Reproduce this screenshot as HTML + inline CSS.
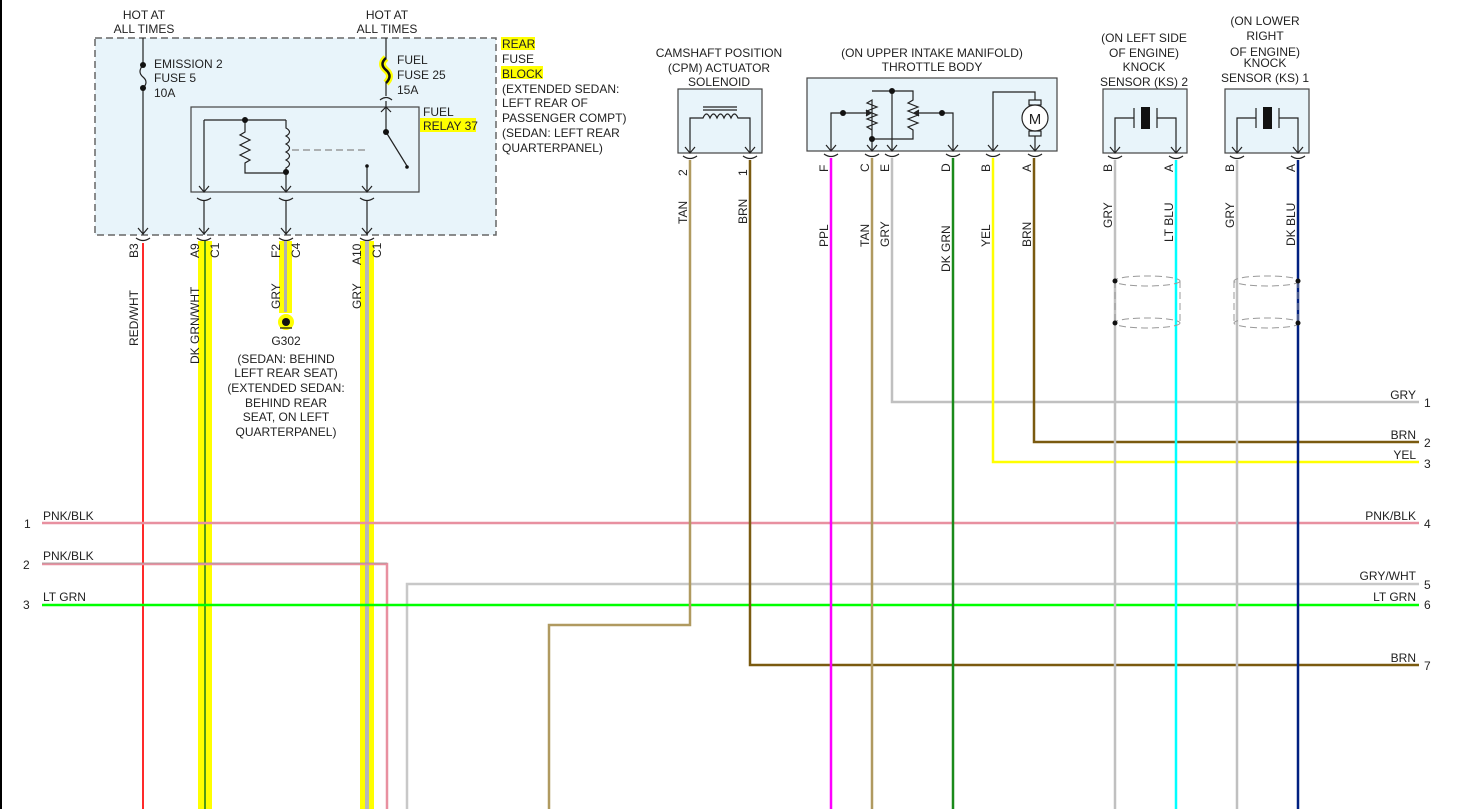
<!DOCTYPE html>
<html><head><meta charset="utf-8"><style>
html,body{margin:0;padding:0;background:#fff}
svg{display:block}
text{font-family:"Liberation Sans",sans-serif;font-size:12px;fill:#222}
.c{text-anchor:middle}
.r{text-anchor:end}
</style></head><body>
<svg width="1467" height="809" viewBox="0 0 1467 809" xmlns="http://www.w3.org/2000/svg">
<line x1="1" y1="0" x2="1" y2="809" stroke="#000" stroke-width="2"/>

<!-- Fuse block -->
<rect x="95" y="38" width="401" height="197" fill="#e8f4fa" stroke="#666" stroke-width="1.5" stroke-dasharray="7,4"/>
<rect x="191" y="107" width="228" height="85" fill="#e8f4fa" stroke="#444" stroke-width="1.2"/>
<text class="c" x="144" y="19">HOT AT</text><text class="c" x="144" y="33">ALL TIMES</text>
<text class="c" x="387" y="19">HOT AT</text><text class="c" x="387" y="33">ALL TIMES</text>
<g stroke="#222" stroke-width="1.2" fill="none">
<line x1="143" y1="38" x2="143" y2="65"/><path d="M143 65 Q137 72 143 77 Q149 82 143 88"/><line x1="143" y1="88" x2="143" y2="235"/>
<path d="M138 228 L143 234 L148 228"/>
<line x1="386" y1="38" x2="386" y2="60"/>
<line x1="386" y1="82" x2="386" y2="96"/>
<path d="M380 100 Q386 95 392 100"/>
<line x1="386" y1="101" x2="386" y2="132"/><path d="M381 112 L386 107 L391 112"/>
<line x1="386" y1="132" x2="407" y2="166"/>
<line x1="367" y1="166" x2="367" y2="192"/>
<line x1="204" y1="120" x2="286" y2="120"/><line x1="204" y1="120" x2="204" y2="192"/>
<path d="M245 120 L245 132 L240 135 L250 140 L240 145 L250 150 L240 155 L250 160 L245 163 L245 173 L286 173"/>
<path d="M286 120 L286 128 Q293 132 286 136 Q293 140 286 144 Q293 148 286 152 Q293 156 286 160 Q293 164 286 168 L286 192"/>
<path d="M199 186 L204 192 L209 186 M281 186 L286 192 L291 186 M362 186 L367 192 L372 186"/>
<path d="M197 198 Q204 203 211 198 M279 198 Q286 203 293 198 M360 198 Q367 203 374 198"/>
<line x1="204" y1="201" x2="204" y2="235"/><line x1="286" y1="201" x2="286" y2="235"/><line x1="367" y1="201" x2="367" y2="235"/>
<path d="M199 228 L204 234 L209 228 M281 228 L286 234 L291 228 M362 228 L367 234 L372 228"/>
<path d="M136 238 Q143 243 150 238 M197 238 Q204 243 211 238 M279 238 Q286 243 293 238 M360 238 Q367 243 374 238"/>
</g>
<line x1="292" y1="150" x2="366" y2="150" stroke="#888" stroke-width="1.2" stroke-dasharray="7,4"/>
<path d="M386 58 Q379 64 386 70 Q393 76 386 83" stroke="#ffff00" stroke-width="7" fill="none"/>
<path d="M386 58 Q379 64 386 70 Q393 76 386 83" stroke="#111" stroke-width="2.5" fill="none"/>
<g fill="#111"><circle cx="143" cy="65" r="3"/><circle cx="143" cy="88" r="3"/><circle cx="245" cy="120" r="3"/><circle cx="286" cy="172" r="3"/><circle cx="386" cy="132" r="3"/><circle cx="407" cy="167" r="1.8"/><circle cx="367" cy="166" r="1.8"/></g>
<text x="154" y="68">EMISSION 2</text><text x="154" y="82">FUSE 5</text><text x="154" y="97">10A</text>
<text x="397" y="64">FUEL</text><text x="397" y="79">FUSE 25</text><text x="397" y="94">15A</text>
<rect x="420" y="118" width="56" height="14" fill="#ffff00"/>
<text x="423" y="116">FUEL</text><text x="423" y="130">RELAY 37</text>
<rect x="501" y="37" width="34" height="13" fill="#ffff00"/><rect x="501" y="66" width="42" height="13" fill="#ffff00"/>
<text x="502" y="48">REAR</text><text x="502" y="63">FUSE</text><text x="502" y="78">BLOCK</text>
<text x="502" y="93">(EXTENDED SEDAN:</text><text x="502" y="107">LEFT REAR OF</text><text x="502" y="122">PASSENGER COMPT)</text><text x="502" y="137">(SEDAN: LEFT REAR</text><text x="502" y="152">QUARTERPANEL)</text>

<!-- left wires -->
<line x1="143" y1="243" x2="143" y2="809" stroke="#ff2a2a" stroke-width="2"/>
<rect x="198" y="241" width="14" height="568" fill="#ffff00"/>
<line x1="205" y1="241" x2="205" y2="809" stroke="#1a7a1a" stroke-width="1.5"/>
<rect x="279" y="241" width="13" height="72" fill="#ffff00"/>
<line x1="285.5" y1="241" x2="285.5" y2="312" stroke="#b0b0b0" stroke-width="3"/>
<circle cx="286" cy="322" r="8" fill="#ffff00"/><circle cx="286" cy="322" r="4" fill="#111"/>
<line x1="280" y1="328" x2="292" y2="328" stroke="#111" stroke-width="1.2"/>
<rect x="360" y="241" width="14" height="568" fill="#ffff00"/>
<line x1="367" y1="241" x2="367" y2="809" stroke="#b8b8b8" stroke-width="4"/>
<text class="c" x="286" y="345">G302</text>
<text class="c" x="286" y="363">(SEDAN: BEHIND</text><text class="c" x="286" y="377">LEFT REAR SEAT)</text><text class="c" x="286" y="392">(EXTENDED SEDAN:</text><text class="c" x="286" y="407">BEHIND REAR</text><text class="c" x="286" y="421">SEAT, ON LEFT</text><text class="c" x="286" y="436">QUARTERPANEL)</text>
<g>
<text transform="translate(138,258) rotate(-90)">B3</text>
<text transform="translate(138,346) rotate(-90)">RED/WHT</text>
<text transform="translate(199,258) rotate(-90)">A9</text>
<text transform="translate(219,258) rotate(-90)">C1</text>
<text transform="translate(199,364) rotate(-90)">DK GRN/WHT</text>
<text transform="translate(280,258) rotate(-90)">F2</text>
<text transform="translate(300,258) rotate(-90)">C4</text>
<text transform="translate(280,309) rotate(-90)">GRY</text>
<text transform="translate(361,265) rotate(-90)">A10</text>
<text transform="translate(381,258) rotate(-90)">C1</text>
<text transform="translate(361,309) rotate(-90)">GRY</text>
</g>

<!-- CPM -->
<text class="c" x="719" y="57">CAMSHAFT POSITION</text><text class="c" x="719" y="72">(CPM) ACTUATOR</text><text class="c" x="719" y="86">SOLENOID</text>
<rect x="678" y="89" width="84" height="64" fill="#e8f4fa" stroke="#444" stroke-width="1.2"/>
<g stroke="#222" stroke-width="1.2" fill="none">
<path d="M690 153 L690 118 L703 118 Q706.5 110 710 118 Q713.5 110 717 118 Q720.5 110 724 118 Q727.5 110 731 118 Q734.5 110 738 118 L750 118 L750 153"/>
<line x1="703" y1="107" x2="737" y2="107"/><line x1="703" y1="110" x2="737" y2="110"/>
</g>
<!-- Throttle -->
<text class="c" x="932" y="57">(ON UPPER INTAKE MANIFOLD)</text><text class="c" x="932" y="71">THROTTLE BODY</text>
<rect x="807" y="78" width="250" height="73" fill="#e8f4fa" stroke="#444" stroke-width="1.2"/>
<g stroke="#222" stroke-width="1.2" fill="none">
<path d="M831 151 L831 113 L866 113"/><path d="M866 110 L871 113 L866 116" fill="#222"/>
<path d="M953 151 L953 113 L919 113"/><path d="M919 110 L914 113 L919 116" fill="#222"/>
<path d="M872 151 L872 100 L867 103 L877 107 L867 111 L877 115 L867 119 L877 123 L867 127 L872 130 L872 139 L913 139 L913 130 L908 127 L918 123 L908 119 L918 115 L908 111 L918 107 L908 103 L913 100 L913 91 L872 91"/>
<line x1="892" y1="91" x2="892" y2="151"/>
<path d="M993 151 L993 92 L1035 92 L1035 100"/>
<rect x="1029" y="100" width="12" height="5"/><rect x="1029" y="131" width="12" height="5"/>
<circle cx="1035" cy="118" r="13" fill="#fff"/>
<line x1="1035" y1="136" x2="1035" y2="151"/>
</g>
<text class="c" x="1035" y="124" style="font-size:15px">M</text>
<g fill="#111"><circle cx="843" cy="113" r="3"/><circle cx="942" cy="113" r="3"/><circle cx="892" cy="91" r="3"/><circle cx="872" cy="139" r="3"/></g>

<!-- Knock sensors -->
<text class="c" x="1144" y="42">(ON LEFT SIDE</text><text class="c" x="1144" y="57">OF ENGINE)</text><text class="c" x="1144" y="71">KNOCK</text><text class="c" x="1144" y="86">SENSOR (KS) 2</text>
<text class="c" x="1265" y="25">(ON LOWER</text><text class="c" x="1265" y="40">RIGHT</text><text class="c" x="1265" y="56">OF ENGINE)</text><text class="c" x="1265" y="67">KNOCK</text><text class="c" x="1265" y="82">SENSOR (KS) 1</text>
<rect x="1103" y="89" width="84" height="64" fill="#e8f4fa" stroke="#444" stroke-width="1.2"/>
<rect x="1225" y="89" width="84" height="64" fill="#e8f4fa" stroke="#444" stroke-width="1.2"/>
<g stroke="#222" stroke-width="1.2" fill="none">
<path d="M1115 153 L1115 118 L1134 118 M1134 108 L1134 128 M1157 108 L1157 128 M1157 118 L1176 118 L1176 153"/>
<path d="M1237 153 L1237 118 L1256 118 M1256 108 L1256 128 M1279 108 L1279 128 M1279 118 L1298 118 L1298 153"/>
</g>
<rect x="1141" y="107" width="9" height="22" fill="#111"/><rect x="1263" y="107" width="9" height="22" fill="#111"/>

<!-- pin arrows and connectors -->
<g stroke="#222" stroke-width="1.2" fill="none">
<path d="M685 147 L690 153 L695 147 M745 147 L750 153 L755 147 M826 145 L831 151 L836 145 M867 145 L872 151 L877 145 M887 145 L892 151 L897 145 M948 145 L953 151 L958 145 M988 145 L993 151 L998 145 M1030 145 L1035 151 L1040 145 M1110 147 L1115 153 L1120 147 M1171 147 L1176 153 L1181 147 M1232 147 L1237 153 L1242 147 M1293 147 L1298 153 L1303 147"/>
<path d="M683 156 Q690 161 697 156 M743 156 Q750 161 757 156 M824 154 Q831 159 838 154 M865 154 Q872 159 879 154 M885 154 Q892 159 899 154 M946 154 Q953 159 960 154 M986 154 Q993 159 1000 154 M1028 154 Q1035 159 1042 154 M1108 156 Q1115 161 1122 156 M1169 156 Q1176 161 1183 156 M1230 156 Q1237 161 1244 156 M1291 156 Q1298 161 1305 156"/>
</g>

<!-- Horizontal wires -->
<line x1="42" y1="523" x2="1419" y2="523" stroke="#e890a0" stroke-width="2.5"/>
<path d="M42 564 L387 564 L387 809" stroke="#e890a0" stroke-width="2.5" fill="none"/>
<line x1="42" y1="564" x2="387" y2="564" stroke="#999" stroke-width="0.8" transform="translate(0,-1)"/>
<path d="M407 809 L407 584 L1419 584" stroke="#c8c8c8" stroke-width="2.5" fill="none"/>
<line x1="42" y1="605" x2="1419" y2="605" stroke="#00ff00" stroke-width="2.5"/>

<!-- vertical wires -->
<path d="M690 160 L690 625 L549 625 L549 809" stroke="#b09a60" stroke-width="2.5" fill="none"/>
<path d="M750 160 L750 665 L1419 665" stroke="#7a5a10" stroke-width="2.5" fill="none"/>
<line x1="831" y1="158" x2="831" y2="809" stroke="#ff00ff" stroke-width="2.5"/>
<line x1="872" y1="158" x2="872" y2="809" stroke="#b09a60" stroke-width="2.5"/>
<path d="M892 158 L892 402 L1419 402" stroke="#c0c0c0" stroke-width="2.5" fill="none"/>
<line x1="953" y1="158" x2="953" y2="809" stroke="#1a8a1a" stroke-width="2.5"/>
<path d="M993 158 L993 462 L1419 462" stroke="#ffff00" stroke-width="2.5" fill="none"/>
<path d="M1034 158 L1034 442 L1419 442" stroke="#7a5a10" stroke-width="2.5" fill="none"/>
<line x1="1115" y1="160" x2="1115" y2="809" stroke="#c0c0c0" stroke-width="2.5"/>
<line x1="1176" y1="160" x2="1176" y2="809" stroke="#00ffff" stroke-width="2.5"/>
<line x1="1237" y1="160" x2="1237" y2="809" stroke="#c0c0c0" stroke-width="2.5"/>
<line x1="1298" y1="160" x2="1298" y2="809" stroke="#002080" stroke-width="2.5"/>

<!-- shields -->
<g stroke="#999" stroke-width="1" stroke-dasharray="7,4" fill="none">
<ellipse cx="1147" cy="281" rx="33" ry="5"/><ellipse cx="1147" cy="323" rx="33" ry="5"/>
<line x1="1115" y1="281" x2="1115" y2="323"/><line x1="1180" y1="281" x2="1180" y2="323"/>
<ellipse cx="1267" cy="281" rx="33" ry="5"/><ellipse cx="1267" cy="323" rx="33" ry="5"/>
<line x1="1234" y1="281" x2="1234" y2="323"/><line x1="1298" y1="281" x2="1298" y2="323"/>
</g>
<g fill="#111"><circle cx="1115" cy="281" r="2.5"/><circle cx="1115" cy="323" r="2.5"/><circle cx="1298" cy="281" r="2.5"/><circle cx="1298" cy="323" r="2.5"/></g>

<!-- vertical labels -->
<g>
<text transform="translate(687,176) rotate(-90)">2</text>
<text transform="translate(747,176) rotate(-90)">1</text>
<text transform="translate(687,224) rotate(-90)">TAN</text>
<text transform="translate(747,224) rotate(-90)">BRN</text>
<text transform="translate(828,172) rotate(-90)">F</text>
<text transform="translate(869,172) rotate(-90)">C</text>
<text transform="translate(889,172) rotate(-90)">E</text>
<text transform="translate(950,172) rotate(-90)">D</text>
<text transform="translate(990,172) rotate(-90)">B</text>
<text transform="translate(1031,172) rotate(-90)">A</text>
<text transform="translate(828,247) rotate(-90)">PPL</text>
<text transform="translate(869,247) rotate(-90)">TAN</text>
<text transform="translate(889,247) rotate(-90)">GRY</text>
<text transform="translate(950,272) rotate(-90)">DK GRN</text>
<text transform="translate(990,247) rotate(-90)">YEL</text>
<text transform="translate(1031,247) rotate(-90)">BRN</text>
<text transform="translate(1112,172) rotate(-90)">B</text>
<text transform="translate(1173,172) rotate(-90)">A</text>
<text transform="translate(1234,172) rotate(-90)">B</text>
<text transform="translate(1295,172) rotate(-90)">A</text>
<text transform="translate(1112,228) rotate(-90)">GRY</text>
<text transform="translate(1173,242) rotate(-90)">LT BLU</text>
<text transform="translate(1234,228) rotate(-90)">GRY</text>
<text transform="translate(1295,246) rotate(-90)">DK BLU</text>
</g>

<!-- horizontal labels -->
<text x="43" y="520">PNK/BLK</text><text x="43" y="560">PNK/BLK</text><text x="43" y="601">LT GRN</text>
<text x="24" y="528">1</text><text x="23" y="569">2</text><text x="23" y="609">3</text>
<text class="r" x="1416" y="399">GRY</text><text class="r" x="1416" y="439">BRN</text><text class="r" x="1416" y="459">YEL</text>
<text class="r" x="1416" y="520">PNK/BLK</text><text class="r" x="1416" y="580">GRY/WHT</text><text class="r" x="1416" y="601">LT GRN</text><text class="r" x="1416" y="662">BRN</text>
<text x="1424" y="407">1</text><text x="1424" y="447">2</text><text x="1424" y="468">3</text><text x="1424" y="528">4</text><text x="1424" y="589">5</text><text x="1424" y="609">6</text><text x="1424" y="670">7</text>
</svg>
</body></html>
